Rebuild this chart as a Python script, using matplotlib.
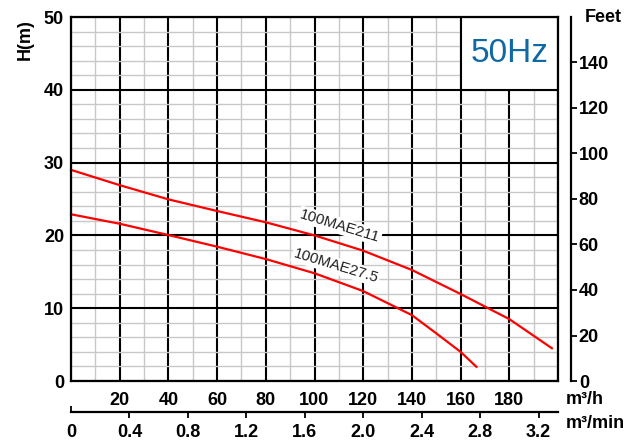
import matplotlib
matplotlib.use("Agg")
import matplotlib.pyplot as plt
import matplotlib.lines as mlines
from matplotlib.patches import Rectangle

# pump curves, flow in m3/h, head in m
q_211 = [0, 20, 40, 60, 80, 100, 120, 140, 160, 180, 197.5]
h_211 = [29.0, 26.9, 24.95, 23.35, 21.8, 20.0, 17.9, 15.25, 11.95, 8.5, 4.5]
q_275 = [0, 20, 40, 60, 80, 100, 120, 140, 150, 160, 166.5]
h_275 = [22.9, 21.6, 20.05, 18.45, 16.75, 14.8, 12.35, 9.05, 6.55, 4.0, 1.95]

curve_names = ["100MAE211", "100MAE27.5"]
label_pos = [(110.5, 21.3), (108.8, 15.8)]

flow_ticks = [20, 40, 60, 80, 100, 120, 140, 160, 180]
head_ticks = [0, 10, 20, 30, 40, 50]
feet_ticks = [0, 20, 40, 60, 80, 100, 120, 140]
min_ticks = [0, 0.4, 0.8, 1.2, 1.6, 2.0, 2.4, 2.8, 3.2]

plt.rcParams["font.family"] = ["Liberation Sans", "DejaVu Sans"]

fig = plt.figure(figsize=(6.39, 4.41), dpi=100)
ax = fig.add_axes([71 / 639, 1 - 381 / 441, 487 / 639, 364 / 441])
ax.set_xlim(0, 200)
ax.set_ylim(0, 50)

ax.set_xticks(range(0, 201, 20))
ax.set_xticks(range(0, 201, 10), minor=True)
ax.set_yticks(head_ticks)
ax.set_yticks(range(0, 51, 2), minor=True)
ax.set_xticklabels([str(v) if v in flow_ticks else "" for v in range(0, 201, 20)])
ax.set_axisbelow(True)
ax.grid(which="minor", color="#c8c8c8", lw=1.0)
ax.grid(which="major", color="black", lw=1.5)
ax.tick_params(which="both", length=0)
ax.tick_params(axis="x", pad=8, labelsize=13)
ax.tick_params(axis="y", pad=5, labelsize=13)
for lab in ax.get_xticklabels() + ax.get_yticklabels():
    lab.set_fontweight("bold")
for sp in ax.spines.values():
    sp.set_linewidth(1.6)

# 50Hz box
ax.add_patch(Rectangle((160, 40), 40, 10, facecolor="white", edgecolor="black",
                       lw=1.5, zorder=1))
ax.text(180, 45, "50Hz", fontsize=24, color="#0f69a5", ha="center", va="center",
        zorder=3)

ax.plot(q_211, h_211, color="#ff0000", lw=1.6, zorder=2, clip_on=False)
ax.plot(q_275, h_275, color="#ff0000", lw=1.6, zorder=2, clip_on=False)

for name, (x, y) in zip(curve_names, label_pos):
    ax.text(x, y, name, fontsize=11, color="#222222", rotation=-17,
            ha="center", va="center", zorder=1.5, rotation_mode="anchor",
            bbox=dict(facecolor="white", edgecolor="none", pad=1))

# feet axis on the right
ax2 = ax.twinx()
ax2.set_ylim(0, 160)
ax2.set_yticks(feet_ticks)
for name in ["top", "left", "bottom"]:
    ax2.spines[name].set_visible(False)
ax2.spines["right"].set_position(("outward", 9))
ax2.spines["right"].set_linewidth(1.6)
ax2.tick_params(axis="y", direction="out", length=4, width=1.3, pad=2, labelsize=13)
for lab in ax2.get_yticklabels():
    lab.set_fontweight("bold")

# m3/min axis below
ax3 = fig.add_axes([71 / 639, 1 - 411.7 / 441, 487 / 639, 0.0001])
ax3.set_xlim(0, 200 / 60)
ax3.set_yticks([])
for name in ["top", "left", "right"]:
    ax3.spines[name].set_visible(False)
ax3.spines["bottom"].set_linewidth(1.6)
ax3.patch.set_alpha(0)
ax3.set_xticks(min_ticks)
ax3.set_xticklabels([f"{v:g}" if v == 0 else f"{v:.1f}" for v in min_ticks])
ax3.tick_params(axis="x", direction="out", length=4, width=1.3, pad=5, labelsize=13)
for lab in ax3.get_xticklabels():
    lab.set_fontweight("bold")
ax3.xaxis.get_major_ticks()[0].tick1line.set_marker(mlines.TICKUP)

fig.text(25 / 639, 1 - 40 / 441, "H(m)", rotation=90, ha="center", va="center",
         fontsize=13, fontweight="bold")
fig.text(603 / 639, 1 - 18 / 441, "Feet", ha="center", va="center",
         fontsize=13, fontweight="bold")
fig.text(566 / 639, 1 - 400 / 441, "m³/h", ha="left", va="center",
         fontsize=13, fontweight="bold")
fig.text(566 / 639, 1 - 424 / 441, "m³/min", ha="left", va="center",
         fontsize=13, fontweight="bold")

fig.savefig("out.png", dpi=100)
